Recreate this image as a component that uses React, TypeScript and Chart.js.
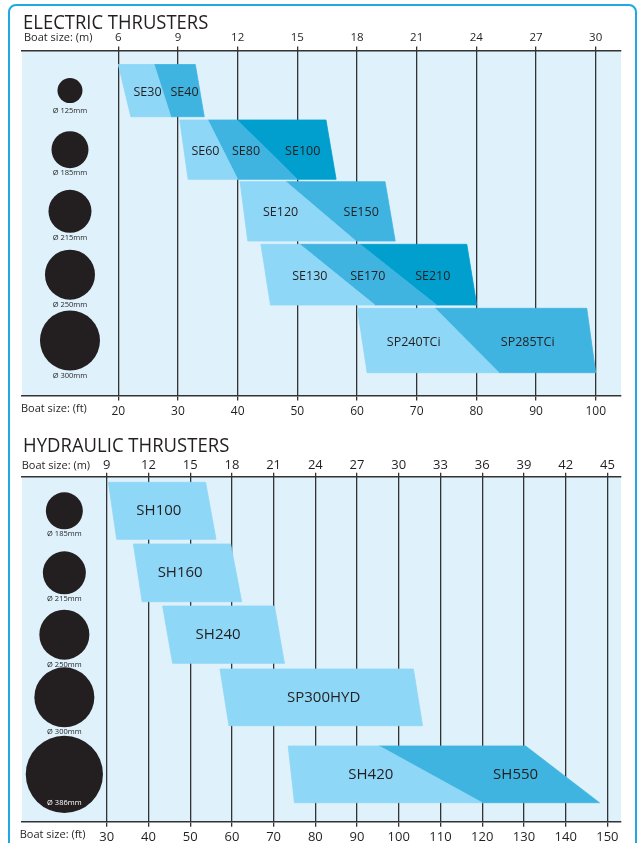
import React, { useEffect, useRef } from "react";
import { Chart, registerables } from "chart.js";

Chart.register(...registerables);

const FONT = "'Open Sans', 'Noto Sans', sans-serif";
const INK = "#231f20";
const SHADES = ["#8ed7f7", "#3fb4e1", "#009fcd"];
const PANEL_BG = "#dff1fb";
const GRID = "#333333";

// ---------------- ELECTRIC THRUSTERS ----------------
const electricFeetTicks = [20, 30, 40, 50, 60, 70, 80, 90, 100];
const electricMeterTicks = [6, 9, 12, 15, 18, 21, 24, 27, 30];
const electricFeetRange = [3.86, 104.24];
const electricTunnelMm = [125, 185, 215, 250, 300];
const electricTunnelFt = 11.9;
const electricModels = [
  ["SE30", "SE40"],
  ["SE60", "SE80", "SE100"],
  ["SE120", "SE150"],
  ["SE130", "SE170", "SE210"],
  ["SP240TCi", "SP285TCi"],
];
// boat length (ft) where each model's range begins / splits / ends, on the upper edge of its band
const electricUpperFt = [
  [20, 26, 32.9],
  [30.3, 35, 39.9, 54.8],
  [40.4, 48.1, 64.7],
  [43.9, 50.4, 60.5, 78.4],
  [60.05, 73.07, 98.5],
];
// ... and on the lower edge of its band
const electricLowerFt = [
  [22.1, 28.8, 34.4],
  [31.7, 40, 50, 56.5],
  [41.7, 59.8, 66.4],
  [45.5, 63, 73.35, 80.06],
  [61.7, 83.8, 100],
];
const electricLabelFt = [
  [24.9, 31.1],
  [34.6, 41.4, 50.9],
  [47.2, 60.7],
  [52.1, 61.8, 72.7],
  [69.5, 88.6],
];
const electricBandTop = [14, 69.5, 131.2, 193.8, 257.8];
const electricBandBottom = [66.2, 128.8, 190.5, 254.5, 322.2];

// ---------------- HYDRAULIC THRUSTERS ----------------
const hydraulicFeetTicks = [30, 40, 50, 60, 70, 80, 90, 100, 110, 120, 130, 140, 150];
const hydraulicMeterTicks = [9, 12, 15, 18, 21, 24, 27, 30, 33, 36, 39, 42, 45];
const hydraulicFeetRange = [9.7, 153.26];
const hydraulicTunnelMm = [185, 215, 250, 300, 386];
const hydraulicTunnelFt = 19.85;
const hydraulicModels = [["SH100"], ["SH160"], ["SH240"], ["SP300HYD"], ["SH420", "SH550"]];
const hydraulicUpperFt = [
  [30.4, 53.7],
  [36.4, 59.7],
  [43.4, 70.2],
  [57.15, 103.5],
  [73.5, 95.3, 130.4],
];
const hydraulicLowerFt = [
  [32.4, 56.2],
  [38.5, 62.35],
  [45.8, 72.6],
  [59.3, 105.7],
  [75, 120, 148.1],
];
const hydraulicLabelFt = [[42.5], [47.6], [56.7], [82], [93.3, 128]];
const hydraulicBandTop = [5.6, 67.3, 129.3, 192.3, 269.3];
const hydraulicBandBottom = [62.6, 125, 186.6, 249, 326];

const BAND_RANGE = 345;

type Section = {
  title: string;
  feetTicks: number[];
  meterTicks: number[];
  range: number[];
  mm: number[];
  tunnelFt: number;
  models: string[][];
  upper: number[][];
  lower: number[][];
  labelFt: number[][];
  bandTop: number[];
  bandBottom: number[];
  canvasTop: number;
  canvasH: number;
  topAxisH: number;
  bottomAxisH: number;
  titleLeft: number;
  titleRight: number;
  titleBase: number;
  mX: number;
  mBase: number;
  ftX: number;
  ftBase: number;
  topTickSize: number;
  topTickPad: number;
  bottomTickSize: number;
  bottomTickPad: number;
  modelSize: number;
  modelDy: number;
};

const electric: Section = {
  title: "ELECTRIC THRUSTERS",
  feetTicks: electricFeetTicks,
  meterTicks: electricMeterTicks,
  range: electricFeetRange,
  mm: electricTunnelMm,
  tunnelFt: electricTunnelFt,
  models: electricModels,
  upper: electricUpperFt,
  lower: electricLowerFt,
  labelFt: electricLabelFt,
  bandTop: electricBandTop,
  bandBottom: electricBandBottom,
  canvasTop: 0,
  canvasH: 430,
  topAxisH: 50.5,
  bottomAxisH: 34.5,
  titleLeft: 24,
  titleRight: 208.3,
  titleBase: 28.8,
  mX: 25,
  mBase: 41,
  ftX: 22,
  ftBase: 411.5,
  topTickSize: 11.5,
  topTickPad: 2,
  bottomTickSize: 12,
  bottomTickPad: 3.5,
  modelSize: 12.5,
  modelDy: 1.5,
};

const hydraulic: Section = {
  title: "HYDRAULIC THRUSTERS",
  feetTicks: hydraulicFeetTicks,
  meterTicks: hydraulicMeterTicks,
  range: hydraulicFeetRange,
  mm: hydraulicTunnelMm,
  tunnelFt: hydraulicTunnelFt,
  models: hydraulicModels,
  upper: hydraulicUpperFt,
  lower: hydraulicLowerFt,
  labelFt: hydraulicLabelFt,
  bandTop: hydraulicBandTop,
  bandBottom: hydraulicBandBottom,
  canvasTop: 426,
  canvasH: 417,
  topAxisH: 50.7,
  bottomAxisH: 21.3,
  titleLeft: 24,
  titleRight: 229.3,
  titleBase: 25.7,
  mX: 22.7,
  mBase: 43,
  ftX: 20.7,
  ftBase: 412,
  topTickSize: 13,
  topTickPad: 0,
  bottomTickSize: 13,
  bottomTickPad: 3,
  modelSize: 15,
  modelDy: 0,
};

function buildDatasets(s: Section): any[] {
  const ds: any[] = [];
  s.models.forEach((names, r) => {
    const yT = s.bandTop[r];
    const yB = s.bandBottom[r];
    names.forEach((_n, k) => {
      const pts = [
        { x: s.upper[r][k], y: yT },
        { x: s.upper[r][k + 1], y: yT },
        { x: s.lower[r][k + 1], y: yB },
        { x: s.lower[r][k], y: yB },
        { x: s.upper[r][k], y: yT },
      ];
      ds.push({
        data: pts,
        showLine: true,
        fill: "shape",
        backgroundColor: SHADES[k],
        borderColor: SHADES[k],
        borderWidth: 0.8,
        pointRadius: 0,
        pointHoverRadius: 0,
        tension: 0,
      });
    });
  });
  ds.push({
    data: s.mm.map((_m, r) => ({ x: s.tunnelFt, y: (s.bandTop[r] + s.bandBottom[r]) / 2 })),
    pointRadius: s.mm.map((mm) => mm / 10),
    pointHoverRadius: s.mm.map((mm) => mm / 10),
    pointBackgroundColor: INK,
    pointBorderColor: INK,
    pointBorderWidth: 0,
    showLine: false,
  });
  return ds;
}

function drawFitted(ctx: CanvasRenderingContext2D, text: string, left: number, right: number, base: number) {
  const m = ctx.measureText(text);
  const extent = m.actualBoundingBoxLeft + m.actualBoundingBoxRight;
  const k = (right - left) / extent;
  ctx.save();
  ctx.translate(left + m.actualBoundingBoxLeft * k, base);
  ctx.scale(k, 1);
  ctx.fillText(text, 0, 0);
  ctx.restore();
}

function drawAt(ctx: CanvasRenderingContext2D, text: string, left: number, base: number) {
  const m = ctx.measureText(text);
  ctx.fillText(text, left + m.actualBoundingBoxLeft, base);
}

function makeDecor(s: Section) {
  return {
    id: "decor",
    beforeDraw(chart: any) {
      const { ctx, chartArea: a } = chart;
      ctx.save();
      ctx.fillStyle = PANEL_BG;
      ctx.fillRect(a.left, a.top, a.right - a.left, a.bottom - a.top);
      ctx.restore();
    },
    afterDatasetsDraw(chart: any) {
      const { ctx } = chart;
      const xs = chart.scales.x;
      const ys = chart.scales.y;
      ctx.save();
      ctx.fillStyle = INK;
      ctx.textAlign = "center";
      ctx.textBaseline = "middle";
      ctx.font = `${s.modelSize}px ${FONT}`;
      s.models.forEach((names, r) => {
        const y = ys.getPixelForValue((s.bandTop[r] + s.bandBottom[r]) / 2) + s.modelDy;
        names.forEach((name, k) => {
          ctx.fillText(name, xs.getPixelForValue(s.labelFt[r][k]), y);
        });
      });
      const meta = chart.getDatasetMeta(chart.data.datasets.length - 1);
      ctx.font = `7.5px ${FONT}`;
      s.mm.forEach((mm, i) => {
        const pt = meta.data[i];
        const r = mm / 10;
        const label = `Ø ${mm}mm`;
        if (r > 35) {
          ctx.fillStyle = "#ffffff";
          ctx.fillText(label, pt.x, pt.y + r - 10);
        } else {
          ctx.fillStyle = INK;
          ctx.fillText(label, pt.x, pt.y + Math.max(r + 5, 20.5));
        }
      });
      ctx.restore();
    },
    afterDraw(chart: any) {
      const { ctx } = chart;
      ctx.save();
      ctx.fillStyle = INK;
      ctx.textAlign = "left";
      ctx.textBaseline = "alphabetic";
      ctx.font = `400 20px ${FONT}`;
      drawFitted(ctx, s.title, s.titleLeft, s.titleRight, s.titleBase);
      ctx.font = `11px ${FONT}`;
      drawAt(ctx, "Boat size: (m)", s.mX, s.mBase);
      drawAt(ctx, "Boat size: (ft)", s.ftX, s.ftBase);
      ctx.restore();
    },
  };
}

function buildConfig(s: Section): any {
  return {
    type: "scatter",
    data: { datasets: buildDatasets(s) },
    options: {
      responsive: false,
      maintainAspectRatio: false,
      animation: false,
      devicePixelRatio: 1,
      events: [],
      layout: { autoPadding: false, padding: { left: 22, right: 22, top: 0, bottom: 0 } },
      plugins: {
        legend: { display: false },
        tooltip: { enabled: false },
        title: { display: false },
      },
      scales: {
        x: {
          type: "linear",
          position: "bottom",
          min: s.range[0],
          max: s.range[1],
          afterBuildTicks: (ax: any) => {
            ax.ticks = s.feetTicks.map((v) => ({ value: v }));
          },
          afterFit: (ax: any) => {
            ax.height = s.bottomAxisH;
          },
          ticks: {
            color: INK,
            font: { family: FONT, size: s.bottomTickSize },
            padding: s.bottomTickPad,
            autoSkip: false,
            maxRotation: 0,
            callback: (v: any) => String(v),
          },
          grid: { color: GRID, lineWidth: 1.3, tickLength: 5, drawTicks: true, drawOnChartArea: true },
          border: { display: true, color: GRID, width: 1.6 },
        },
        xTop: {
          type: "linear",
          position: "top",
          min: s.range[0] * 0.3,
          max: s.range[1] * 0.3,
          afterBuildTicks: (ax: any) => {
            ax.ticks = s.meterTicks.map((v) => ({ value: v }));
          },
          afterFit: (ax: any) => {
            ax.height = s.topAxisH;
          },
          ticks: {
            color: INK,
            font: { family: FONT, size: s.topTickSize },
            padding: s.topTickPad,
            autoSkip: false,
            maxRotation: 0,
            callback: (v: any) => String(v),
          },
          grid: { color: GRID, lineWidth: 1.3, tickLength: 4, drawTicks: true, drawOnChartArea: false },
          border: { display: true, color: GRID, width: 1.6 },
        },
        y: {
          type: "linear",
          display: false,
          min: 0,
          max: BAND_RANGE,
          reverse: true,
        },
      },
    },
    plugins: [makeDecor(s)],
  };
}

function SectionChart({ s }: { s: Section }) {
  const ref = useRef<HTMLCanvasElement | null>(null);
  useEffect(() => {
    if (!ref.current) return;
    const chart = new Chart(ref.current, buildConfig(s));
    return () => chart.destroy();
  }, [s]);
  return (
    <canvas
      ref={ref}
      width={643}
      height={s.canvasH}
      style={{ position: "absolute", left: 0, top: s.canvasTop, width: 643, height: s.canvasH, display: "block" }}
    />
  );
}

export default function App() {
  return (
    <div
      style={{
        position: "absolute",
        left: 0,
        top: 0,
        width: 643,
        height: 843,
        overflow: "hidden",
        background: "#ffffff",
      }}
    >
      <div
        style={{
          position: "absolute",
          left: 8,
          top: 4,
          width: 625,
          height: 1000,
          border: "2px solid #1ea9e2",
          borderRadius: 8,
          boxSizing: "content-box",
        }}
      />
      <SectionChart s={electric} />
      <SectionChart s={hydraulic} />
    </div>
  );
}
